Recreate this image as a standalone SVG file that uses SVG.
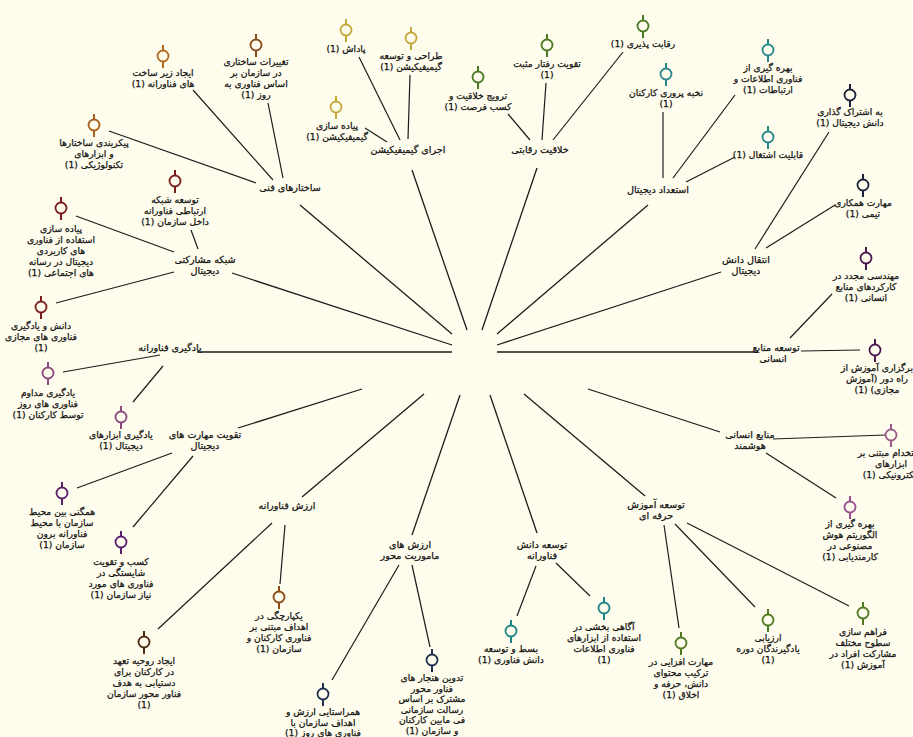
<svg xmlns="http://www.w3.org/2000/svg" xmlns:xlink="http://www.w3.org/1999/xlink" width="913" height="737" viewBox="0 0 913 737">
<style>
.bg{fill:#fefcec}
text{font-family:"DejaVu Sans","Noto Sans",sans-serif;font-size:9.2px;fill:#111;stroke:#111;stroke-width:0.25;text-anchor:middle;direction:rtl;unicode-bidi:embed}
.cat{font-size:9.6px}
.conn line{stroke:#1c1c1c;stroke-width:1.2;fill:none}
.conn .main{stroke-width:1.3}
.ico line{stroke-width:2}
.ico circle{fill:#fefcec;stroke-width:1.8}
</style>
<defs>
<g id="ico" class="ico"><line x1="0" y1="-11" x2="0" y2="-5.5"/><circle r="5.5"/><line x1="0" y1="5.5" x2="0" y2="12"/></g>
</defs>
<rect class="bg" x="0" y="0" width="913" height="737"/>
<g id="connectors" class="conn">
<line class="main" x1="300" y1="205" x2="452" y2="334"/>
<line class="main" x1="232" y1="273" x2="452" y2="345"/>
<line class="main" x1="197" y1="352" x2="452" y2="352"/>
<line class="main" x1="238" y1="428" x2="362" y2="389"/>
<line class="main" x1="302" y1="497" x2="424" y2="394"/>
<line class="main" x1="412" y1="535" x2="460" y2="395"/>
<line class="main" x1="537" y1="533" x2="490" y2="395"/>
<line class="main" x1="645" y1="496" x2="524" y2="394"/>
<line class="main" x1="720" y1="432" x2="588" y2="389"/>
<line class="main" x1="497" y1="352" x2="758" y2="352"/>
<line class="main" x1="497" y1="345" x2="721" y2="272"/>
<line class="main" x1="497" y1="334" x2="648" y2="205"/>
<line class="main" x1="537" y1="168" x2="482" y2="330"/>
<line class="main" x1="412" y1="170" x2="467" y2="330"/>
<line x1="193" y1="90" x2="273" y2="180"/>
<line x1="268" y1="103" x2="283" y2="178"/>
<line x1="109" y1="131" x2="256" y2="183"/>
<line x1="191" y1="230" x2="198" y2="249"/>
<line x1="76" y1="216" x2="174" y2="252"/>
<line x1="56" y1="303" x2="174" y2="272"/>
<line x1="63" y1="372" x2="160" y2="355"/>
<line x1="133" y1="402" x2="163" y2="366"/>
<line x1="77" y1="488" x2="172" y2="453"/>
<line x1="133" y1="527" x2="193" y2="456"/>
<line x1="158" y1="629" x2="272" y2="523"/>
<line x1="285" y1="525" x2="280" y2="584"/>
<line x1="399" y1="565" x2="332" y2="680"/>
<line x1="412" y1="565" x2="430" y2="647"/>
<line x1="536" y1="566" x2="517" y2="616"/>
<line x1="556" y1="563" x2="590" y2="596"/>
<line x1="664" y1="525" x2="679" y2="628"/>
<line x1="675" y1="524" x2="755" y2="607"/>
<line x1="687" y1="523" x2="849" y2="606"/>
<line x1="773" y1="439" x2="885" y2="435"/>
<line x1="766" y1="453" x2="836" y2="498"/>
<line x1="801" y1="351" x2="860" y2="350"/>
<line x1="790" y1="338" x2="832" y2="294"/>
<line x1="829" y1="132" x2="755" y2="249"/>
<line x1="835" y1="205" x2="766" y2="248"/>
<line x1="663" y1="112" x2="663" y2="178"/>
<line x1="735" y1="95" x2="673" y2="178"/>
<line x1="735" y1="157" x2="686" y2="182"/>
<line x1="623" y1="52" x2="553" y2="140"/>
<line x1="546" y1="83" x2="542" y2="140"/>
<line x1="508" y1="114" x2="530" y2="140"/>
<line x1="359" y1="57" x2="400" y2="140"/>
<line x1="410" y1="75" x2="408" y2="139"/>
<line x1="365" y1="128" x2="387" y2="142"/>
</g>

<g id="center"></g>

<g id="n-sakhtar"><text class="cat" x="290" y="191">ساختارهای فنی</text></g>
<g id="n-sakhtar-1"><use href="#ico" x="163" y="56" stroke="#b06a20"/><text x="163" y="76"><tspan x="163">ایجاد زیر ساخت</tspan><tspan x="163" dy="11">های فناورانه (1)</tspan></text></g>
<g id="n-sakhtar-2"><use href="#ico" x="256" y="45" stroke="#8e4c1a"/><text x="256" y="65"><tspan x="256">تغییرات ساختاری</tspan><tspan x="256" dy="11">در سازمان بر</tspan><tspan x="256" dy="11">اساس فناوری به</tspan><tspan x="256" dy="11">روز (1)</tspan></text></g>
<g id="n-sakhtar-3"><use href="#ico" x="94" y="125" stroke="#a85e1c"/><text x="94" y="146"><tspan x="94">پیکربندی ساختارها</tspan><tspan x="94" dy="11">و ابزارهای</tspan><tspan x="94" dy="11">تکنولوژیکی (1)</tspan></text></g>

<g id="n-shabake"><text class="cat" x="205" y="263"><tspan x="205">شبکه مشارکتی</tspan><tspan x="205" dy="11">دیجیتال</tspan></text></g>
<g id="n-shabake-1"><use href="#ico" x="175" y="181" stroke="#7b1c1c"/><text x="175" y="203"><tspan x="175">توسعه شبکه</tspan><tspan x="175" dy="11">ارتباطی فناورانه</tspan><tspan x="175" dy="11">داخل سازمان (1)</tspan></text></g>
<g id="n-shabake-2"><use href="#ico" x="61" y="208" stroke="#7b1c1c"/><text x="61" y="232"><tspan x="61">پیاده سازی</tspan><tspan x="61" dy="11">استفاده از فناوری</tspan><tspan x="61" dy="11">های کاربردی</tspan><tspan x="61" dy="11">دیجیتال در رسانه</tspan><tspan x="61" dy="11">های اجتماعی (1)</tspan></text></g>
<g id="n-shabake-3"><use href="#ico" x="41" y="307" stroke="#7b1c1c"/><text x="41" y="329"><tspan x="41">دانش و یادگیری</tspan><tspan x="41" dy="11">فناوری های مجازی</tspan><tspan x="41" dy="11">(1)</tspan></text></g>

<g id="n-yadgiri"><text class="cat" x="170" y="351">یادگیری فناورانه</text></g>
<g id="n-yadgiri-1"><use href="#ico" x="48" y="373" stroke="#8c4a7c"/><text x="48" y="396"><tspan x="48">یادگیری مداوم</tspan><tspan x="48" dy="11">فناوری های روز</tspan><tspan x="48" dy="11">توسط کارکنان (1)</tspan></text></g>
<g id="n-yadgiri-2"><use href="#ico" x="121" y="417" stroke="#8c4a7c"/><text x="121" y="438"><tspan x="121">یادگیری ابزارهای</tspan><tspan x="121" dy="11">دیجیتال (1)</tspan></text></g>

<g id="n-mahart"><text class="cat" x="205" y="438"><tspan x="205">تقویت مهارت های</tspan><tspan x="205" dy="11">دیجیتال</tspan></text></g>
<g id="n-mahart-1"><use href="#ico" x="62" y="493" stroke="#5b1f6b"/><text x="62" y="515"><tspan x="62">همگنی بین محیط</tspan><tspan x="62" dy="11">سازمان با محیط</tspan><tspan x="62" dy="11">فناورانه برون</tspan><tspan x="62" dy="11">سازمان (1)</tspan></text></g>
<g id="n-mahart-2"><use href="#ico" x="121" y="542" stroke="#5b1f6b"/><text x="121" y="565"><tspan x="121">کسب و تقویت</tspan><tspan x="121" dy="11">شایستگی در</tspan><tspan x="121" dy="11">فناوری های مورد</tspan><tspan x="121" dy="11">نیاز سازمان (1)</tspan></text></g>

<g id="n-arzesh"><text class="cat" x="287" y="509">ارزش فناورانه</text></g>
<g id="n-arzesh-1"><use href="#ico" x="144" y="642" stroke="#4a2a12"/><text x="144" y="664"><tspan x="144">ایجاد روحیه تعهد</tspan><tspan x="144" dy="11">در کارکنان برای</tspan><tspan x="144" dy="11">دستیابی به هدف</tspan><tspan x="144" dy="11">فناور محور سازمان</tspan><tspan x="144" dy="11">(1)</tspan></text></g>
<g id="n-arzesh-2"><use href="#ico" x="279" y="597" stroke="#8a4a12"/><text x="279" y="619"><tspan x="279">یکپارچگی در</tspan><tspan x="279" dy="11">اهداف مبتنی بر</tspan><tspan x="279" dy="11">فناوری کارکنان و</tspan><tspan x="279" dy="11">سازمان (1)</tspan></text></g>

<g id="n-mamoriat"><text class="cat" x="410" y="548"><tspan x="410">ارزش های</tspan><tspan x="410" dy="11">ماموریت محور</tspan></text></g>
<g id="n-mamoriat-1"><use href="#ico" x="323" y="694" stroke="#1f2f4f"/><text x="323" y="715"><tspan x="323">همراستایی ارزش و</tspan><tspan x="323" dy="10.5">اهداف سازمان با</tspan><tspan x="323" dy="10.5">فناوری های روز (1)</tspan></text></g>
<g id="n-mamoriat-2"><use href="#ico" x="432" y="660" stroke="#1f2f4f"/><text x="432" y="681"><tspan x="432">تدوین هنجار های</tspan><tspan x="432" dy="10.5">فناور محور</tspan><tspan x="432" dy="10.5">مشترک بر اساس</tspan><tspan x="432" dy="10.5">رسالت سازمانی</tspan><tspan x="432" dy="10.5">فی مابین کارکنان</tspan><tspan x="432" dy="10.5">و سازمان (1)</tspan></text></g>

<g id="n-danesh"><text class="cat" x="542" y="548"><tspan x="542">توسعه دانش</tspan><tspan x="542" dy="11">فناورانه</tspan></text></g>
<g id="n-danesh-1"><use href="#ico" x="511" y="631" stroke="#1b8585"/><text x="511" y="652"><tspan x="511">بسط و توسعه</tspan><tspan x="511" dy="11">دانش فناوری (1)</tspan></text></g>
<g id="n-danesh-2"><use href="#ico" x="604" y="608" stroke="#1b8585"/><text x="604" y="630"><tspan x="604">آگاهی بخشی در</tspan><tspan x="604" dy="11">استفاده از ابزارهای</tspan><tspan x="604" dy="11">فناوری اطلاعات</tspan><tspan x="604" dy="11">(1)</tspan></text></g>

<g id="n-amoozesh"><text class="cat" x="656" y="508"><tspan x="656">توسعه آموزش</tspan><tspan x="656" dy="11">حرفه ای</tspan></text></g>
<g id="n-amoozesh-1"><use href="#ico" x="681" y="643" stroke="#4f7a1f"/><text x="681" y="665"><tspan x="681">مهارت افزایی در</tspan><tspan x="681" dy="11">ترکیب محتوای</tspan><tspan x="681" dy="11">دانش، حرفه و</tspan><tspan x="681" dy="11">اخلاق (1)</tspan></text></g>
<g id="n-amoozesh-2"><use href="#ico" x="768" y="620" stroke="#4f7a1f"/><text x="768" y="641"><tspan x="768">ارزیابی</tspan><tspan x="768" dy="11">یادگیرندگان دوره</tspan><tspan x="768" dy="11">(1)</tspan></text></g>
<g id="n-amoozesh-3"><use href="#ico" x="863" y="613" stroke="#4f7a1f"/><text x="863" y="635"><tspan x="863">فراهم سازی</tspan><tspan x="863" dy="11">سطوح مختلف</tspan><tspan x="863" dy="11">مشارکت افراد در</tspan><tspan x="863" dy="11">آموزش (1)</tspan></text></g>

<g id="n-hooshmand"><text class="cat" x="750" y="438"><tspan x="750">منابع انسانی</tspan><tspan x="750" dy="11">هوشمند</tspan></text></g>
<g id="n-hooshmand-1"><use href="#ico" x="891" y="435" stroke="#9a5a8a"/><text x="891" y="456"><tspan x="891">استخدام مبتنی بر</tspan><tspan x="891" dy="11">ابزارهای</tspan><tspan x="891" dy="11">الکترونیکی (1)</tspan></text></g>
<g id="n-hooshmand-2"><use href="#ico" x="850" y="507" stroke="#9a4f8e"/><text x="850" y="527"><tspan x="850">بهره گیری از</tspan><tspan x="850" dy="11">الگوریتم هوش</tspan><tspan x="850" dy="11">مصنوعی در</tspan><tspan x="850" dy="11">کارمندیابی (1)</tspan></text></g>

<g id="n-manabe"><text class="cat" x="775" y="351"><tspan x="776">توسعه منابع</tspan><tspan x="773" dy="11">انسانی</tspan></text></g>
<g id="n-manabe-1"><use href="#ico" x="875" y="350" stroke="#4a1a4f"/><text x="877" y="371"><tspan x="877">برگزاری آموزش از</tspan><tspan x="877" dy="11">راه دور (آموزش</tspan><tspan x="877" dy="11">مجازی) (1)</tspan></text></g>
<g id="n-manabe-2"><use href="#ico" x="866" y="258" stroke="#4a1a4f"/><text x="866" y="279"><tspan x="866">مهندسی مجدد در</tspan><tspan x="866" dy="11">کارکردهای منابع</tspan><tspan x="866" dy="11">انسانی (1)</tspan></text></g>

<g id="n-enteghal"><text class="cat" x="746" y="263"><tspan x="746">انتقال دانش</tspan><tspan x="746" dy="11">دیجیتال</tspan></text></g>
<g id="n-enteghal-1"><use href="#ico" x="850" y="95" stroke="#1c2238"/><text x="850" y="115"><tspan x="850">به اشتراک گذاری</tspan><tspan x="850" dy="11">دانش دیجیتال (1)</tspan></text></g>
<g id="n-enteghal-2"><use href="#ico" x="863" y="185" stroke="#1c2238"/><text x="863" y="206"><tspan x="863">مهارت همکاری</tspan><tspan x="863" dy="11">تیمی (1)</tspan></text></g>

<g id="n-esteadad"><text class="cat" x="658" y="193">استعداد دیجیتال</text></g>
<g id="n-esteadad-1"><use href="#ico" x="666" y="74" stroke="#26868a"/><text x="666" y="96"><tspan x="666">نخبه پروری کارکنان</tspan><tspan x="666" dy="11">(1)</tspan></text></g>
<g id="n-esteadad-2"><use href="#ico" x="768" y="50" stroke="#26868a"/><text x="768" y="71"><tspan x="768">بهره گیری از</tspan><tspan x="768" dy="11">فناوری اطلاعات و</tspan><tspan x="768" dy="11">ارتباطات (1)</tspan></text></g>
<g id="n-esteadad-3"><use href="#ico" x="768" y="137" stroke="#26868a"/><text x="768" y="158">قابلیت اشتغال (1)</text></g>

<g id="n-khalaghiat"><text class="cat" x="540" y="153">خلاقیت رقابتی</text></g>
<g id="n-khalaghiat-1"><use href="#ico" x="643" y="26" stroke="#4a7a22"/><text x="643" y="47">رقابت پذیری (1)</text></g>
<g id="n-khalaghiat-2"><use href="#ico" x="547" y="45" stroke="#4a7a22"/><text x="547" y="67"><tspan x="547">تقویت رفتار مثبت</tspan><tspan x="547" dy="11">(1)</tspan></text></g>
<g id="n-khalaghiat-3"><use href="#ico" x="478" y="77" stroke="#4a7a22"/><text x="478" y="99"><tspan x="478">ترویج خلاقیت و</tspan><tspan x="478" dy="11">کسب فرصت (1)</tspan></text></g>

<g id="n-gamification"><text class="cat" x="408" y="153">اجرای گیمیفیکیشن</text></g>
<g id="n-gamification-1"><use href="#ico" x="346" y="30" stroke="#c4a83a"/><text x="346" y="52">پاداش (1)</text></g>
<g id="n-gamification-2"><use href="#ico" x="411" y="38" stroke="#c4a83a"/><text x="411" y="59"><tspan x="411">طراحی و توسعه</tspan><tspan x="411" dy="11">گیمیفیکیشن (1)</tspan></text></g>
<g id="n-gamification-3"><use href="#ico" x="336" y="107" stroke="#c4a83a"/><text x="337" y="129"><tspan x="337">پیاده سازی</tspan><tspan x="337" dy="11">گیمیفیکیشن (1)</tspan></text></g>
</svg>
